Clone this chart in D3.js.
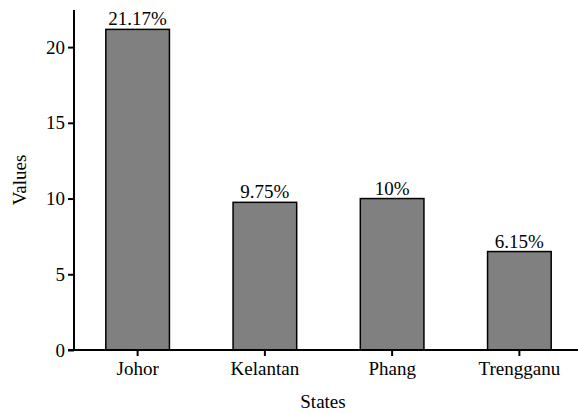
<!DOCTYPE html>
<html>
<head>
<meta charset="utf-8">
<script src="https://cdn.jsdelivr.net/npm/d3@7"></script>
<style>
  body { margin: 0; background: #fff; }
</style>
</head>
<body>
<svg id="chart" width="578" height="413"></svg>
<script>
const states = ["Johor", "Kelantan", "Phang", "Trengganu"];
const values = [21.17, 9.75, 10, 6.5];
const labels = ["21.17%", "9.75%", "10%", "6.15%"];
const yTicks = [0, 5, 10, 15, 20];

const width = 578, height = 413;
const margin = { top: 10, right: -5, bottom: 63, left: 74 };
const fontSize = 19;
const serif = "Liberation Serif, DejaVu Serif, serif";

const svg = d3.select("#chart")
  .style("font-family", serif);

const x = d3.scaleBand()
  .domain(states)
  .range([margin.left, width - margin.right])
  .paddingInner(0.5)
  .paddingOuter(0.25);

const y = d3.scaleLinear()
  .domain([0, 22.45])
  .range([height - margin.bottom, margin.top]);

// bars
svg.append("g")
  .selectAll("rect")
  .data(states)
  .join("rect")
    .attr("x", d => x(d))
    .attr("y", (d, i) => y(values[i]))
    .attr("width", x.bandwidth())
    .attr("height", (d, i) => y(0) - y(values[i]))
    .attr("fill", "#808080")
    .attr("stroke", "#000")
    .attr("stroke-width", 1.5);

// value labels
svg.append("g")
  .attr("text-anchor", "middle")
  .attr("font-size", fontSize)
  .selectAll("text")
  .data(states)
  .join("text")
    .attr("x", d => x(d) + x.bandwidth() / 2)
    .attr("y", (d, i) => y(values[i]) - 4)
    .text((d, i) => labels[i]);

// y axis
const yAxis = svg.append("g")
  .attr("transform", `translate(${margin.left},0)`)
  .call(d3.axisLeft(y).tickValues(yTicks).tickSize(6).tickPadding(3));
yAxis.select(".domain").attr("d", `M-0,${y(0)}V${margin.top}`);

// x axis
const xAxis = svg.append("g")
  .attr("transform", `translate(0,${y(0)})`)
  .call(d3.axisBottom(x).tickSize(6).tickPadding(6));
xAxis.select(".domain").attr("d", `M${margin.left - 6},0H${width}`);

svg.selectAll("g").attr("font-family", null);
svg.selectAll(".tick text")
  .attr("font-size", fontSize)
  .attr("fill", "#000");
svg.selectAll(".domain, .tick line")
  .attr("stroke", "#000")
  .attr("stroke-width", 2);

// axis titles
svg.append("text")
  .attr("x", (margin.left + width) / 2 - 3)
  .attr("y", 408)
  .attr("text-anchor", "middle")
  .attr("font-size", fontSize)
  .text("States");

svg.append("text")
  .attr("transform", `translate(26,${(margin.top + y(0)) / 2}) rotate(-90)`)
  .attr("text-anchor", "middle")
  .attr("font-size", fontSize)
  .text("Values");
</script>
</body>
</html>
